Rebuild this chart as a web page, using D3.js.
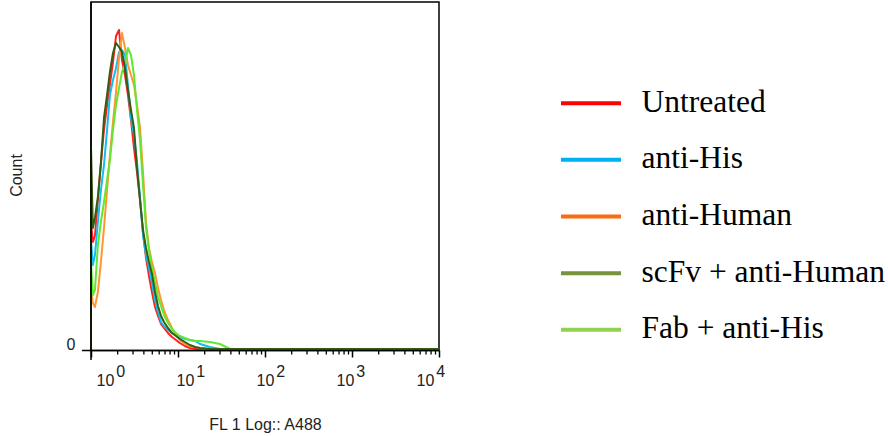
<!DOCTYPE html>
<html>
<head>
<meta charset="utf-8">
<script src="https://cdn.jsdelivr.net/npm/d3@7"></script>
<style>
  body { margin: 0; background: #fff; }
  svg { display: block; }
</style>
</head>
<body>
<script>
// FL1 channel centres (log scale) and the event counts read per channel
var bins = [1.00, 1.05, 1.11, 1.20, 1.30, 1.41, 1.53, 1.65, 1.79, 1.94,
            2.10, 2.27, 2.46, 2.66, 2.88, 3.12, 3.38, 3.66, 3.96, 4.29,
            4.64, 5.02, 5.44, 5.89, 6.38, 6.90, 7.67, 8.53, 9.48, 10.5,
            12.0, 13.7, 15.7, 17.9, 23.3, 30.4, 39.6, 67.3, 253, 948, 10000];

var untreated = [127, 107, 113, 149, 186, 219, 244, 265, 287, 313,
                 319, 289, 274, 254, 229, 201, 177, 149, 117, 91,
                 73, 57, 42, 33, 25, 21, 16, 12, 9, 6,
                 3, 1, 0, 0, 0, 0, 0, 0, 0, 0, 0];
var antiHis = [109, 84, 94, 127, 159, 184, 219, 254, 269, 281,
               297, 299, 294, 264, 231, 214, 187, 151, 114, 94,
               81, 66, 49, 37, 27, 23, 19, 16, 14, 12,
               10, 9, 8, 5, 2, 0, 0, 0, 0, 0, 0];
var antiHuman = [61, 46, 42, 57, 87, 121, 159, 194, 227, 257,
                 291, 316, 301, 284, 274, 264, 244, 221, 177, 127,
                 101, 87, 76, 61, 49, 39, 29, 21, 14, 9,
                 5, 3, 2, 1, 0, 0, 0, 0, 0, 0, 0];
var scfvAntiHuman = [202, 121, 131, 152, 186, 231, 254, 277, 296, 306,
                     302, 297, 281, 259, 239, 221, 181, 149, 119, 101,
                     87, 75, 57, 43, 33, 27, 21, 16, 13, 10,
                     7, 4, 2, 1, 0, 0, 0, 0, 0, 0, 0];
var fabAntiHis = [87, 54, 59, 104, 127, 147, 169, 189, 219, 244,
                  261, 277, 285, 301, 294, 274, 239, 209, 164, 121,
                  99, 81, 66, 52, 43, 34, 26, 20, 16, 13,
                  11, 9, 8, 8, 7, 5, 0, 0, 0, 0, 0];

var seriesNames = ["Untreated", "anti-His", "anti-Human", "scFv + anti-Human", "Fab + anti-His"];
var seriesCounts = [untreated, antiHis, antiHuman, scfvAntiHuman, fabAntiHis];
var curveColors = ["#ff2020", "#14bcf0", "#ff9630", "#345f12", "#62e830"];
var legendColors = ["#ff0000", "#00b0f0", "#ff6a10", "#77933c", "#92d050"];
var drawOrder = [0, 1, 2, 4, 3];
var decades = [0, 1, 2, 3, 4];

var width = 888, height = 436;

var svg = d3.select("body")
    .append("svg")
        .attr("width", width)
        .attr("height", height);

var x = d3.scaleLog().domain([1, 10000]).range([91, 439]);
var y = d3.scaleLinear().domain([0, 347]).range([349, 2]);
var axisY = y(0) + 1.5;

// frame
svg.append("rect")
    .attr("x", x(1))
    .attr("y", y.range()[1])
    .attr("width", x(10000) - x(1))
    .attr("height", axisY - y.range()[1])
    .attr("fill", "none")
    .attr("stroke", "#000")
    .attr("stroke-width", 1.5);

// histograms
var line = d3.line()
    .x(function(d) { return x(d.x) })
    .y(function(d) { return y(d.c) });

var curves = svg.append("g").attr("class", "curves");
drawOrder.forEach(function(i) {
    var pts = [{x: bins[0], c: 0}].concat(seriesCounts[i].map(function(c, j) {
        return {x: bins[j], c: c};
    }));
    curves.append("path")
        .datum(pts)
        .attr("fill", "none")
        .attr("stroke", curveColors[i])
        .attr("stroke-width", 2)
        .attr("stroke-linejoin", "round")
        .attr("d", line);
});

// axes lines (extend past the corner like the cytometer export)
svg.append("line")
    .attr("x1", x(1) - 9).attr("x2", x(10000))
    .attr("y1", axisY).attr("y2", axisY)
    .attr("stroke", "#000").attr("stroke-width", 1.5);
svg.append("line")
    .attr("x1", x(1)).attr("x2", x(1))
    .attr("y1", y.range()[1]).attr("y2", axisY + 9.5)
    .attr("stroke", "#000").attr("stroke-width", 1.5);

// ticks
var majors = decades.map(function(d) { return Math.pow(10, d) });
var minors = [];
decades.slice(0, -1).forEach(function(d) {
    for (var k = 2; k < 10; k++) minors.push(k * Math.pow(10, d));
});

svg.append("g")
    .attr("transform", "translate(0," + axisY + ")")
    .call(d3.axisBottom(x).tickValues(minors).tickSize(4).tickFormat(""))
    .call(function(g) { g.select(".domain").remove() })
    .selectAll("line").attr("stroke", "#000").attr("stroke-width", 1.3);

svg.append("g")
    .attr("transform", "translate(0," + axisY + ")")
    .call(d3.axisBottom(x).tickValues(majors).tickSize(7).tickFormat(""))
    .call(function(g) { g.select(".domain").remove() })
    .selectAll("line").attr("stroke", "#000").attr("stroke-width", 1.5);

// decade labels sit on their own even spacing in the original
var labelX = d3.scaleLinear().domain([0, 4]).range([96.5, 416.5]);
var lbl = svg.append("g")
    .attr("font-family", "Liberation Sans, Arial, sans-serif")
    .attr("font-size", 16)
    .attr("fill", "#222");
decades.forEach(function(d) {
    var t = lbl.append("text")
        .attr("x", labelX(d))
        .attr("y", 385.5);
    t.append("tspan").text("10");
    t.append("tspan").attr("dx", 2).attr("dy", -9).text(String(d));
});

lbl.append("text")
    .attr("x", 71)
    .attr("y", 350)
    .attr("text-anchor", "middle")
    .text("0");

svg.append("text")
    .attr("x", 265.5)
    .attr("y", 430)
    .attr("text-anchor", "middle")
    .attr("font-family", "Liberation Sans, Arial, sans-serif")
    .attr("font-size", 16)
    .attr("fill", "#222")
    .text("FL 1 Log:: A488");

svg.append("text")
    .attr("transform", "translate(21.5,175.5) rotate(-90)")
    .attr("text-anchor", "middle")
    .attr("font-family", "Liberation Sans, Arial, sans-serif")
    .attr("font-size", 16)
    .attr("fill", "#222")
    .text("Count");

// legend
var legY = d3.scalePoint().domain(seriesNames).range([111.7, 338.3]);
var leg = svg.append("g").attr("class", "legend");
seriesNames.forEach(function(name, i) {
    var by = legY(name);
    leg.append("line")
        .attr("x1", 561).attr("x2", 621)
        .attr("y1", by - 8.5).attr("y2", by - 8.5)
        .attr("stroke", legendColors[i])
        .attr("stroke-width", 4);
    leg.append("text")
        .attr("x", 641.5)
        .attr("y", by)
        .attr("font-family", "Liberation Serif, Times New Roman, serif")
        .attr("font-size", 31.5)
        .attr("fill", "#000")
        .text(name);
});
</script>
</body>
</html>
